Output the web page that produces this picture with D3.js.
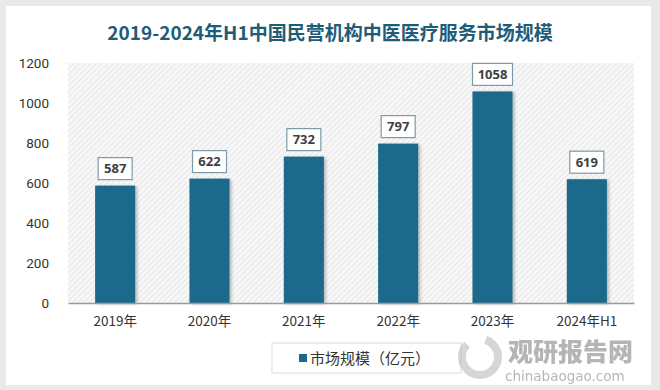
<!DOCTYPE html>
<html>
<head>
<meta charset="utf-8">
<script src="https://cdn.jsdelivr.net/npm/d3@7"></script>
<style>
  html, body { margin: 0; padding: 0; background: #e9e9e9; }
  svg { display: block; }
</style>
</head>
<body>
<svg id="chart" width="660" height="390"></svg>
<script>
  // Données
  var categories = ["2019年", "2020年", "2021年", "2022年", "2023年", "2024年H1"];
  var values = [587, 622, 732, 797, 1058, 619];
  var yTicks = [0, 200, 400, 600, 800, 1000, 1200];
  var seriesName = "市场规模（亿元）";
  var title = "2019-2024年H1中国民营机构中医医疗服务市场规模";

  var W = 660, H = 390;
  var margin = { top: 63, right: 26, bottom: 87, left: 68 };
  var plotW = W - margin.left - margin.right;
  var plotH = H - margin.top - margin.bottom;
  var barColor = "#1c6a8b";

  var svg = d3.select("#chart");

  // carte blanche
  svg.append("rect")
    .attr("x", 6).attr("y", 6)
    .attr("width", 645).attr("height", 379)
    .attr("fill", "#ffffff");

  var defs = svg.append("defs");
  var pat = defs.append("pattern")
    .attr("id", "hatch")
    .attr("patternUnits", "userSpaceOnUse")
    .attr("width", 4).attr("height", 4)
    .attr("patternTransform", "rotate(45)");
  pat.append("rect").attr("width", 4).attr("height", 4).attr("fill", "#f7f7f7");
  pat.append("line")
    .attr("x1", 0).attr("y1", 0).attr("x2", 0).attr("y2", 4)
    .attr("stroke", "#e2e2e2").attr("stroke-width", 1.5);

  var shadow = defs.append("filter").attr("id", "shadow")
    .attr("x", "-20%").attr("y", "-20%").attr("width", "150%").attr("height", "150%");
  shadow.append("feDropShadow")
    .attr("dx", 2).attr("dy", 1).attr("stdDeviation", 1.5)
    .attr("flood-color", "#000").attr("flood-opacity", 0.25);

  svg.append("text")
    .attr("x", 330).attr("y", 40)
    .attr("text-anchor", "middle")
    .attr("font-family", "'Noto Sans CJK SC', sans-serif")
    .attr("font-weight", "bold")
    .attr("font-size", 19)
    .attr("fill", "#1f5c78")
    .text(title);

  var g = svg.append("g")
    .attr("transform", "translate(" + margin.left + "," + margin.top + ")");

  var x = d3.scaleBand().domain(categories).range([0, plotW]).paddingInner(0.575).paddingOuter(0.2875);
  var y = d3.scaleLinear().domain([0, 1200]).range([plotH, 0]);

  g.append("rect")
    .attr("width", plotW).attr("height", plotH)
    .attr("fill", "url(#hatch)");

  // Axe Y
  var yAxis = g.append("g")
    .call(d3.axisLeft(y).tickValues(yTicks).tickFormat(d3.format("d")).tickSize(0).tickPadding(19));
  yAxis.select(".domain").remove();
  yAxis.selectAll("text")
    .attr("font-family", "Roboto, 'Noto Sans', sans-serif")
    .attr("font-size", 13.5)
    .attr("fill", "#333");

  // Barres
  g.selectAll(".bar")
    .data(values)
    .enter().append("rect")
    .attr("class", "bar")
    .attr("x", function(d, i) { return x(categories[i]); })
    .attr("y", function(d) { return y(d); })
    .attr("width", x.bandwidth())
    .attr("height", function(d) { return plotH - y(d); })
    .attr("fill", barColor)
    .attr("filter", "url(#shadow)");

  // Axe X
  var xAxis = g.append("g")
    .attr("transform", "translate(0," + plotH + ")")
    .call(d3.axisBottom(x).tickSize(0).tickPadding(13));
  xAxis.select(".domain").attr("stroke", "#9a9a9a").attr("stroke-width", 1.5);
  xAxis.selectAll("text")
    .attr("font-family", "'Noto Sans CJK SC', sans-serif")
    .attr("font-size", 13.5)
    .attr("fill", "#333");

  // Étiquettes
  var lab = g.selectAll(".lab")
    .data(values)
    .enter().append("g")
    .attr("class", "lab")
    .attr("transform", function(d, i) {
      return "translate(" + (x(categories[i]) + x.bandwidth() / 2) + "," + (y(d) - 17) + ")";
    });
  lab.append("rect")
    .attr("x", function(d) { return d >= 1000 ? -20 : -17; })
    .attr("y", -11)
    .attr("width", function(d) { return d >= 1000 ? 40 : 34; })
    .attr("height", 22)
    .attr("fill", "#fff")
    .attr("stroke", "#7f9aa6")
    .attr("stroke-width", 1.2);
  lab.append("text")
    .attr("text-anchor", "middle")
    .attr("dy", "0.36em")
    .attr("font-family", "'Open Sans', sans-serif")
    .attr("font-weight", "bold")
    .attr("font-size", 13)
    .attr("fill", "#404040")
    .text(function(d) { return d; });

  // Légende
  var leg = svg.append("g").attr("transform", "translate(272,343)");
  leg.append("rect")
    .attr("width", 189).attr("height", 30)
    .attr("fill", "#fff").attr("stroke", "#dcdcdc");
  leg.append("rect")
    .attr("x", 27).attr("y", 11).attr("width", 8).attr("height", 8)
    .attr("fill", barColor);
  leg.append("text")
    .attr("x", 38).attr("y", 21)
    .attr("font-family", "'Noto Sans CJK SC', sans-serif")
    .attr("font-size", 15)
    .attr("fill", "#333")
    .text(seriesName);

  // Filigrane
  var wm = svg.append("g").attr("opacity", 0.55);
  wm.append("circle").attr("cx", 480).attr("cy", 357).attr("r", 18)
    .attr("fill", "none").attr("stroke", "#b5b5b5").attr("stroke-width", 8)
    .attr("stroke-dasharray", "70 20");
  wm.append("text")
    .attr("x", 508).attr("y", 361)
    .attr("font-family", "'Noto Sans CJK SC', sans-serif")
    .attr("font-weight", "900")
    .attr("font-size", 25)
    .attr("fill", "#7a7a7a")
    .text("观研报告网");
  wm.append("text")
    .attr("x", 505).attr("y", 381)
    .attr("font-family", "'DejaVu Sans', sans-serif")
    .attr("font-size", 13.5)
    .attr("fill", "#7a7a7a")
    .text("chinabaogao.com");
</script>
</body>
</html>
